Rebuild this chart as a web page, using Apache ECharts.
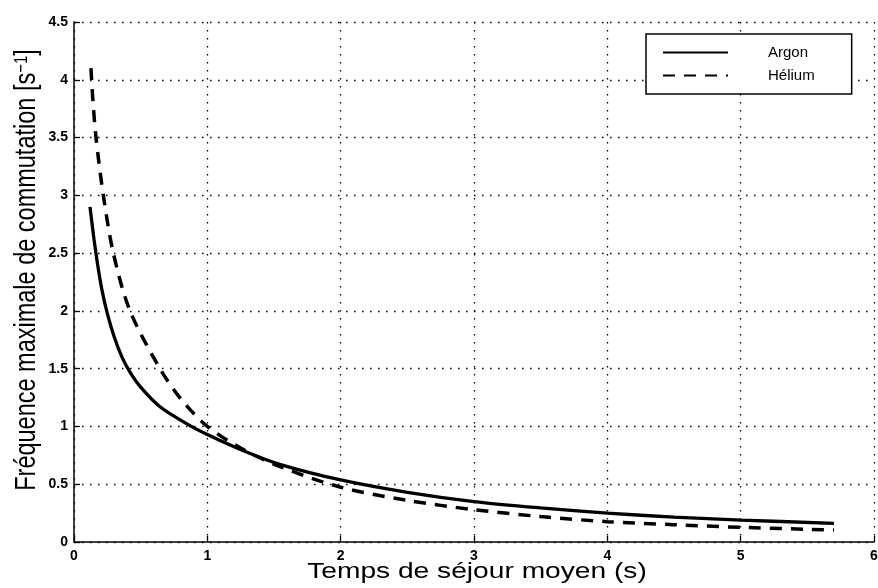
<!DOCTYPE html>
<html><head><meta charset="utf-8">
<script src="https://cdn.jsdelivr.net/npm/echarts@6/dist/echarts.min.js"></script>
<style>html,body{margin:0;padding:0;background:#fff}#c{width:878px;height:588px}</style>
</head><body><div id="c"></div>
<script>
const argonX = [0.12, 0.15, 0.18, 0.21, 0.245, 0.30, 0.36, 0.42, 0.50, 0.645, 0.85, 1.0, 1.27, 1.55, 2.0, 2.5, 3.0, 3.5, 4.0, 4.5, 5.0, 5.7];
const argonY = [2.9, 2.62, 2.38, 2.18, 2.0, 1.78, 1.6, 1.47, 1.34, 1.17, 1.02, 0.93, 0.79, 0.67, 0.537, 0.43, 0.35, 0.295, 0.25, 0.215, 0.19, 0.162];
const heliumX = [0.127, 0.14, 0.165, 0.22, 0.295, 0.42, 0.645, 0.8, 1.0, 1.27, 1.55, 2.0, 2.5, 3.0, 3.5, 4.0, 4.5, 5.0, 5.7];
const heliumY = [4.1, 3.85, 3.5, 3.0, 2.5, 2.0, 1.5, 1.24, 1.0, 0.8, 0.65, 0.474, 0.36, 0.28, 0.22, 0.176, 0.15, 0.127, 0.104];
const xTicks = [0, 1, 2, 3, 4, 5, 6];
const yTicks = [0, 0.5, 1, 1.5, 2, 2.5, 3, 3.5, 4, 4.5];
const seriesNames = ['Argon', 'Hélium'];
const xTitle = 'Temps de séjour moyen (s)';
const yTitle = 'Fréquence maximale de commutation [s{sup|−1}]';

const zip = (xs, ys) => xs.map((x, i) => [x, ys[i]]);
const chart = echarts.init(document.getElementById('c'), null, {renderer: 'canvas'});
const grid = {color: '#000', width: 1.3, type: [1.5, 6.5]};
chart.setOption({
  animation: false,
  backgroundColor: '#fff',
  grid: {left: 74, right: 4, top: 22, bottom: 46, containLabel: false, outerBoundsMode: 'none'},
  legend: {
    left: 646, top: 34, orient: 'vertical',
    borderColor: '#000', borderWidth: 1.5, backgroundColor: '#fff',
    padding: [11, 37, 11, 16],
    itemWidth: 65, itemHeight: 14, itemGap: 8,
    itemStyle: {opacity: 0},
    textStyle: {fontFamily: 'Liberation Sans', fontSize: 15, color: '#000', padding: [0, 0, 0, 35]},
    data: seriesNames
  },
  graphic: [
    {type: 'text', x: 477, y: 572, scaleX: 1.28, scaleY: 1, silent: true,
      style: {text: xTitle, fill: '#000', font: '22px "Liberation Sans"', align: 'center', verticalAlign: 'middle'}},
    {type: 'text', x: 27, y: 270, rotation: Math.PI / 2, scaleX: 1, scaleY: 1.22, silent: true,
      style: {text: yTitle, fill: '#000', font: '23.5px "Liberation Sans"', align: 'center', verticalAlign: 'middle',
        rich: {sup: {fill: '#000', font: '15px "Liberation Sans"', verticalAlign: 'top', padding: [0, 0, 9, 0]}}}}
  ],
  xAxis: {
    type: 'value', min: xTicks[0], max: xTicks[xTicks.length - 1], interval: 1,
    axisLine: {onZero: false, lineStyle: {color: '#000', width: 1.5}},
    axisTick: {inside: true, length: 6, lineStyle: {color: '#000', width: 1.3}},
    axisLabel: {color: '#000', fontFamily: 'Liberation Sans', fontWeight: 'bold', fontSize: 14, margin: 7,
      formatter: v => xTicks.includes(v) ? String(v) : ''},
    splitLine: {show: true, lineStyle: grid}
  },
  yAxis: {
    type: 'value', min: yTicks[0], max: yTicks[yTicks.length - 1], interval: 0.5,
    axisLine: {onZero: false, lineStyle: {color: '#000', width: 1.5}},
    axisTick: {inside: true, length: 6, lineStyle: {color: '#000', width: 1.3}},
    axisLabel: {color: '#000', fontFamily: 'Liberation Sans', fontWeight: 'bold', fontSize: 14, margin: 6,
      formatter: v => String(v)},
    splitLine: {show: true, lineStyle: grid}
  },
  series: [
    {name: seriesNames[0], type: 'line', data: zip(argonX, argonY), smooth: 0.3, symbol: 'none',
      lineStyle: {color: '#000', width: 3.3, type: 'solid'}, itemStyle: {color: '#000'}},
    {name: seriesNames[1], type: 'line', data: zip(heliumX, heliumY), smooth: 0.3, symbol: 'none',
      lineStyle: {color: '#000', width: 3.5, type: [12, 9]}, itemStyle: {color: '#000'}}
  ]
});
</script></body></html>
